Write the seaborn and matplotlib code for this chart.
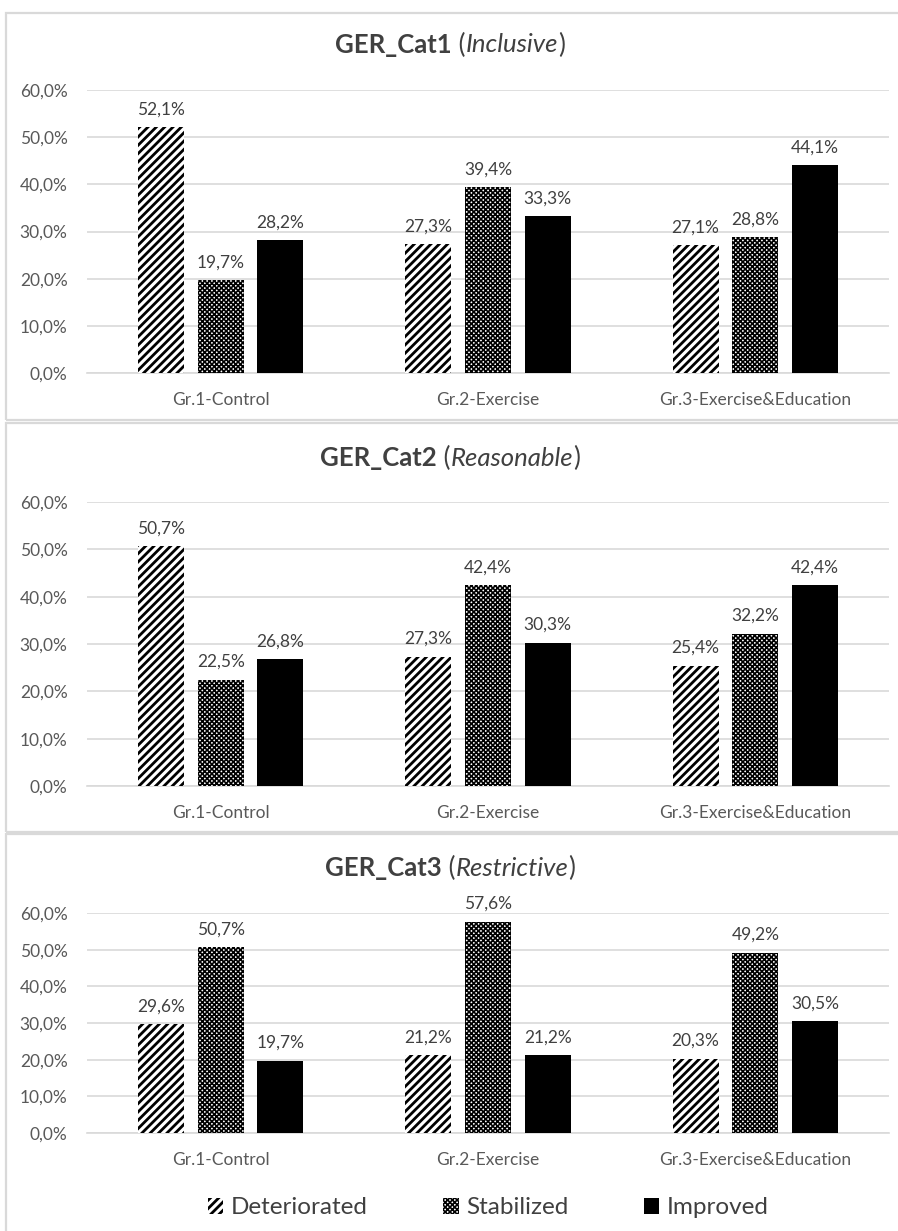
import matplotlib
matplotlib.use("Agg")
import matplotlib.pyplot as plt
from matplotlib.patches import Rectangle, Patch
import seaborn as sns
import pandas as pd

# ---- data -------------------------------------------------------------
groups = ["Gr.1-Control", "Gr.2-Exercise", "Gr.3-Exercise&Education"]
statuses = ["Deteriorated", "Stabilized", "Improved"]

cat1_deteriorated = [52.1, 27.3, 27.1]
cat1_stabilized = [19.7, 39.4, 28.8]
cat1_improved = [28.2, 33.3, 44.1]

cat2_deteriorated = [50.7, 27.3, 25.4]
cat2_stabilized = [22.5, 42.4, 32.2]
cat2_improved = [26.8, 30.3, 42.4]

cat3_deteriorated = [29.6, 21.2, 20.3]
cat3_stabilized = [50.7, 57.6, 49.2]
cat3_improved = [19.7, 21.2, 30.5]

panel_names = ["GER_Cat1", "GER_Cat2", "GER_Cat3"]
panel_subtitles = ["Inclusive", "Reasonable", "Restrictive"]
y_ticks = [0, 10, 20, 30, 40, 50, 60]

panels = [
    (cat1_deteriorated, cat1_stabilized, cat1_improved),
    (cat2_deteriorated, cat2_stabilized, cat2_improved),
    (cat3_deteriorated, cat3_stabilized, cat3_improved),
]

# ---- style ------------------------------------------------------------
sns.set_theme(style="white")
FONT = ["Lato", "DejaVu Sans"]
plt.rcParams["font.family"] = FONT
plt.rcParams["hatch.linewidth"] = 2.0

TEXT = "#404040"
TICK = "#595959"
GRID = "#d9d9d9"
LABEL_SIZE = 12.5

W, H = 898, 1231
fig = plt.figure(figsize=(W / 100, H / 100), dpi=100)
fig.patch.set_facecolor("white")


def fx(px):
    return px / W


def fy(px):
    return 1 - px / H


# panel frames (top, bottom) in pixels
frames = [(13, 420), (423, 832), (834, 1260)]
for top, bottom in frames:
    fig.patches.append(Rectangle((fx(6), fy(bottom)), fx(1000), (bottom - top) / H,
                                 transform=fig.transFigure, fill=False,
                                 edgecolor=GRID, linewidth=1.6, zorder=0))

# axes boxes: (top of 60% line, baseline)
axes_boxes = [(90, 373), (502, 786), (913, 1133)]
title_y = [45, 458, 868]
title_cx = 450
ax_left, ax_right = 87, 889

hatches = ["////", "xxxxxxx", None]
hatch_lw = [2.0, 1.2, None]


def fmt_pct(v):
    return f"{v:.1f}%".replace(".", ",")


def apply_hatch(patch, h, lw):
    patch.set_edgecolor("black")
    patch.set_linewidth(0)
    if h:
        patch.set_hatch(h)
        if hasattr(patch, "set_hatch_linewidth"):
            patch.set_hatch_linewidth(lw)


for (top, bottom), vals, name, sub, ty in zip(axes_boxes, panels, panel_names,
                                              panel_subtitles, title_y):
    ax = fig.add_axes([fx(ax_left), fy(bottom), (ax_right - ax_left) / W,
                       (bottom - top) / H])
    df = pd.DataFrame({
        "group": groups * 3,
        "status": [s for s in statuses for _ in groups],
        "value": [v for series in vals for v in series],
    })
    sns.barplot(data=df, x="group", y="value", hue="status", order=groups,
                hue_order=statuses, palette=["white", "white", "black"],
                saturation=1, width=0.67, gap=0.23, errorbar=None,
                legend=False, ax=ax, edgecolor="black", linewidth=0, zorder=3)

    for container, h, lw in zip(ax.containers, hatches, hatch_lw):
        for bar in container:
            apply_hatch(bar, h, lw)
        ax.bar_label(container, labels=[fmt_pct(b.get_height()) for b in container],
                     padding=7, fontsize=LABEL_SIZE, color=TEXT, family=FONT)

    ax.set_ylim(0, 60)
    ax.set_yticks(y_ticks)
    ax.set_yticklabels([fmt_pct(t) for t in y_ticks])
    ax.set_xlabel("")
    ax.set_ylabel("")
    ax.yaxis.grid(True, color=GRID, linewidth=1.2, zorder=0)
    ax.set_axisbelow(True)
    for side in ["top", "left", "right"]:
        ax.spines[side].set_visible(False)
    ax.spines["bottom"].set_color(GRID)
    ax.spines["bottom"].set_linewidth(1.2)
    ax.tick_params(axis="both", length=0, labelsize=LABEL_SIZE, labelcolor=TICK)
    ax.tick_params(axis="y", pad=14)
    ax.tick_params(axis="x", pad=14)
    ax.set_facecolor("none")

    # title with bold name and italic qualifier
    renderer = fig.canvas.get_renderer()
    pieces = [(name, "normal", "bold"), (" (", "normal", "normal"),
              (sub, "italic", "normal"), (")", "normal", "normal")]
    texts = []
    for s, st, w in pieces:
        texts.append(fig.text(0, fy(ty), s, fontsize=18.5, fontstyle=st,
                              fontweight=w, color=TEXT, ha="left", va="center"))
    widths = [t.get_window_extent(renderer).width for t in texts]
    x = title_cx - sum(widths) / 2
    for t, wdt in zip(texts, widths):
        t.set_x(fx(x))
        x += wdt

# legend
handles = [Patch(facecolor="white"), Patch(facecolor="white"), Patch(facecolor="black")]
for hp, h, lw in zip(handles, hatches, hatch_lw):
    apply_hatch(hp, h, lw)
leg = fig.legend(handles, statuses, loc="center", bbox_to_anchor=(fx(488), fy(1208)),
                 ncol=3, frameon=False, fontsize=17.5, labelcolor=TEXT,
                 handlelength=0.65, handleheight=0.65, handletextpad=0.3,
                 columnspacing=3.1)
for lp, h, lw in zip(leg.get_patches(), hatches, hatch_lw):
    apply_hatch(lp, h, lw)

fig.savefig("out.png", dpi=100, facecolor="white")
